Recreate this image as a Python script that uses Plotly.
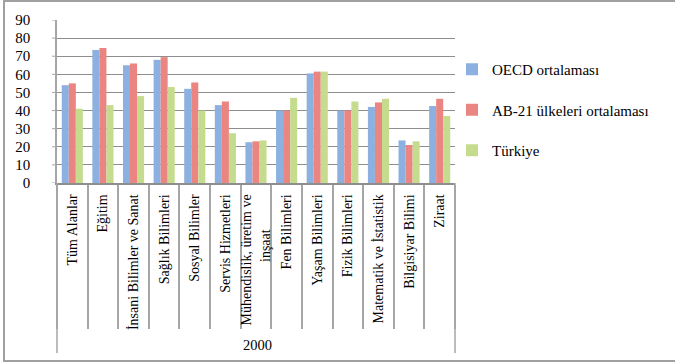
import plotly.graph_objects as go

NBSP = "\u00a0"

# Fields of study (inner category labels) and the single year group
categories = [
    "Tüm Alanlar", "Eğitim", "İnsani Bilimler ve Sanat", "Sağlık Bilimleri",
    "Sosyal Bilimler", "Servis Hizmetleri",
    "Mühendislik, üretim ve<br>inşaat" + NBSP * 10,
    "Fen Bilimleri", "Yaşam Bilimleri", "Fizik Bilimleri",
    "Matematik ve İstatistik", "Bilgisiyar Bilimi", "Ziraat",
]
year_label = "2000"
y_ticks = list(range(0, 91, 10))

oecd = [54, 73.5, 65, 68, 52, 43, 22.5, 40, 60.5, 40, 42, 23.5, 42.5]
ab21 = [55, 74.5, 66, 69.5, 55.5, 45, 23, 40, 61.5, 40, 44.5, 21, 46.5]
turkiye = [41, 43, 48, 53, 40, 27.5, 23.5, 47, 61.5, 45, 46.5, 23, 37]

series_names = ["OECD ortalaması", "AB-21 ülkeleri ortalaması", "Türkiye"]
series_values = [oecd, ab21, turkiye]
series_colors = ["#8cb0e0", "#ea8582", "#c5dc8f"]

FONT = "Liberation Serif"
GRID = "#8e8e8e"
SEP = "#a6a6a6"

fig = go.Figure()
for i, (name, vals, col) in enumerate(zip(series_names, series_values, series_colors)):
    fig.add_trace(go.Bar(
        x=categories, y=vals, name=name, legendgroup=f"g{i}",
        marker=dict(color=col, line=dict(width=0)),
    ))

W, H = 675, 364
ML, MR, MT, MB = 57, 220, 20, 181
pw, ph = W - ML - MR, H - MT - MB


def px_x(v):
    return (v - ML) / pw


def px_y(v):
    return 1 - (v - MT) / ph


shapes = [
    # chart frame
    dict(type="rect", xref="paper", yref="paper",
         x0=px_x(4), x1=px_x(690), y0=px_y(361), y1=px_y(1),
         line=dict(color="#a0a0a0", width=2), layer="below"),
    # outer group dividers for the year group
    dict(type="line", xref="paper", yref="paper", x0=0, x1=0,
         y0=px_y(353), y1=0, line=dict(color=SEP, width=1.5)),
    dict(type="line", xref="paper", yref="paper", x0=1, x1=1,
         y0=px_y(353), y1=0, line=dict(color=SEP, width=1.5)),
]
# short visible tick marks on the value axis (the axis' own ticks are
# kept transparent and long so the labels sit further out)
for v in y_ticks:
    shapes.append(dict(type="line", xref="paper", yref="y",
                       x0=px_x(52), x1=0, y0=v, y1=v,
                       line=dict(color=SEP, width=1)))

fig.update_layout(
    width=W, height=H,
    margin=dict(l=ML, r=MR, t=MT, b=MB),
    paper_bgcolor="white", plot_bgcolor="white",
    barmode="group", bargap=0.31, bargroupgap=0,
    font=dict(family=FONT, color="#000000"),
    shapes=shapes,
    annotations=[dict(
        text=year_label, xref="paper", yref="paper",
        x=px_x(241), y=px_y(345), xanchor="left", yanchor="middle",
        showarrow=False, font=dict(family=FONT, size=14.5, color="black"),
    )],
    legend=dict(
        x=px_x(452), y=px_y(53), xanchor="left", yanchor="top",
        font=dict(family=FONT, size=15, color="black"),
        traceorder="grouped", tracegroupgap=18,
        bgcolor="rgba(0,0,0,0)",
    ),
    showlegend=True,
)

fig.update_yaxes(
    range=[0, 90], tickmode="array", tickvals=y_ticks,
    showgrid=True, gridcolor=GRID, gridwidth=1,
    showline=True, linecolor=SEP, linewidth=1.5,
    ticks="outside", ticklen=22, tickcolor="rgba(0,0,0,0)",
    tickfont=dict(family=FONT, size=15, color="black"),
    zeroline=False,
)
fig.update_xaxes(
    type="category",
    showline=True, linecolor=GRID, linewidth=1.5,
    ticks="outside", tickson="boundaries", ticklen=144, tickcolor=SEP, tickwidth=1.5,
    tickangle=-90, ticklabelstandoff=4,
    tickfont=dict(family=FONT, size=14, color="black"),
    showgrid=False,
)

fig.write_html("out.html")
